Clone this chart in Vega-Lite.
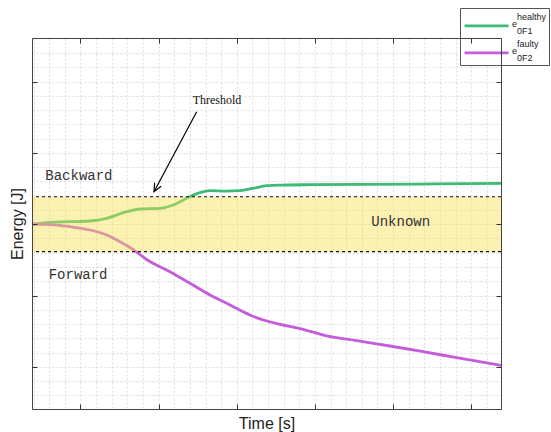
{
  "$schema": "https://vega.github.io/schema/vega-lite/v6.json",
  "width": 469,
  "height": 371,
  "autosize": {"type": "none"},
  "padding": {"left": 32, "top": 38, "right": 50, "bottom": 23},
  "config": {
    "view": {"stroke": null},
    "font": "Liberation Sans",
    "style": {"guide-label": {"lineHeight": 7}}
  },
  "datasets": {
    "energy": [
      {"signal": "healthy", "t": -0.62, "e": 2.0},
      {"signal": "healthy", "t": -0.39, "e": 2.027},
      {"signal": "healthy", "t": -0.134, "e": 2.035},
      {"signal": "healthy", "t": 0.122, "e": 2.045},
      {"signal": "healthy", "t": 0.336, "e": 2.083},
      {"signal": "healthy", "t": 0.591, "e": 2.175},
      {"signal": "healthy", "t": 0.762, "e": 2.213},
      {"signal": "healthy", "t": 1.017, "e": 2.223},
      {"signal": "healthy", "t": 1.188, "e": 2.269},
      {"signal": "healthy", "t": 1.359, "e": 2.363},
      {"signal": "healthy", "t": 1.529, "e": 2.444},
      {"signal": "healthy", "t": 1.657, "e": 2.47},
      {"signal": "healthy", "t": 1.871, "e": 2.465},
      {"signal": "healthy", "t": 2.041, "e": 2.47},
      {"signal": "healthy", "t": 2.207, "e": 2.503},
      {"signal": "healthy", "t": 2.382, "e": 2.54},
      {"signal": "healthy", "t": 2.553, "e": 2.549},
      {"signal": "healthy", "t": 2.975, "e": 2.554},
      {"signal": "healthy", "t": 3.576, "e": 2.559},
      {"signal": "healthy", "t": 4.344, "e": 2.563},
      {"signal": "healthy", "t": 5.38, "e": 2.573},
      {"signal": "faulty", "t": -0.62, "e": 2.0},
      {"signal": "faulty", "t": -0.39, "e": 1.995},
      {"signal": "faulty", "t": -0.134, "e": 1.965},
      {"signal": "faulty", "t": 0.122, "e": 1.919},
      {"signal": "faulty", "t": 0.336, "e": 1.849},
      {"signal": "faulty", "t": 0.506, "e": 1.755},
      {"signal": "faulty", "t": 0.676, "e": 1.645},
      {"signal": "faulty", "t": 0.847, "e": 1.505},
      {"signal": "faulty", "t": 1.145, "e": 1.334},
      {"signal": "faulty", "t": 1.401, "e": 1.172},
      {"signal": "faulty", "t": 1.657, "e": 1.008},
      {"signal": "faulty", "t": 1.913, "e": 0.868},
      {"signal": "faulty", "t": 2.169, "e": 0.727},
      {"signal": "faulty", "t": 2.339, "e": 0.657},
      {"signal": "faulty", "t": 2.553, "e": 0.597},
      {"signal": "faulty", "t": 2.808, "e": 0.538},
      {"signal": "faulty", "t": 3.107, "e": 0.447},
      {"signal": "faulty", "t": 3.534, "e": 0.367},
      {"signal": "faulty", "t": 3.96, "e": 0.293},
      {"signal": "faulty", "t": 4.386, "e": 0.213},
      {"signal": "faulty", "t": 4.813, "e": 0.129},
      {"signal": "faulty", "t": 5.38, "e": 0.02}
    ],
    "thresholds": [
      {"bound": "lower", "e": 1.615},
      {"bound": "upper", "e": 2.385}
    ],
    "regions": [
      {"label": "Backward", "t": -0.02, "e": 2.676},
      {"label": "Forward", "t": -0.03, "e": 1.288},
      {"label": "Unknown", "t": 4.097, "e": 2.027}
    ],
    "note": [
      {"label": "Threshold", "t": 1.747, "e": 3.741, "tipT": 0.941, "tipE": 2.456, "tailT": 1.487, "tailE": 3.577}
    ]
  },
  "layer": [
    {
      "data": {"name": "energy"},
      "mark": {"type": "line", "strokeWidth": 2.8, "interpolate": "monotone"},
      "encoding": {
        "x": {
          "field": "t", "type": "quantitative",
          "scale": {"domain": [-0.62, 5.38], "nice": false, "zero": false},
          "axis": {
            "orient": "bottom", "title": null, "labels": false, "ticks": false, "domain": false,
            "grid": true, "gridColor": "#dddddd", "gridDash": [2, 2], "gridWidth": 1, "zindex": 0,
            "values": [-0.6, -0.4, -0.2, 0, 0.2, 0.4, 0.6, 0.8, 1, 1.2, 1.4, 1.6, 1.8, 2, 2.2, 2.4, 2.6, 2.8, 3, 3.2, 3.4, 3.6, 3.8, 4, 4.2, 4.4, 4.6, 4.8, 5, 5.2]
          }
        },
        "y": {
          "field": "e", "type": "quantitative",
          "scale": {"domain": [-0.59, 4.61], "nice": false, "zero": false},
          "axis": {
            "orient": "left", "title": null, "labels": false, "ticks": false, "domain": false,
            "grid": true, "gridColor": "#dddddd", "gridDash": [2, 2], "gridWidth": 1, "zindex": 0,
            "values": [-0.4, -0.2, 0, 0.2, 0.4, 0.6, 0.8, 1, 1.2, 1.4, 1.6, 1.8, 2, 2.2, 2.4, 2.6, 2.8, 3, 3.2, 3.4, 3.6, 3.8, 4, 4.2, 4.4]
          }
        },
        "color": {
          "field": "signal", "type": "nominal",
          "scale": {"domain": ["healthy", "faulty"], "range": ["#3dba74", "#c45cdb"]},
          "legend": {
            "orient": "none", "legendX": 428, "legendY": -30,
            "title": null, "padding": 2, "fillColor": "white", "strokeColor": "#555",
            "symbolType": "M-0.8,1.6H7.2", "symbolSize": 121, "symbolStrokeWidth": 2.8,
            "symbolFillColor": "transparent",
            "labelOffset": 36, "labelFontSize": 9, "labelFont": "Liberation Sans", "labelColor": "#222",
            "rowPadding": 1,
            "labelExpr": "datum.label == 'healthy' ? ['\u200b\u00a0\u00a0healthy', 'e', '\u200b\u00a0\u00a00F1'] : ['\u200b\u00a0\u00a0faulty', 'e', '\u200b\u00a0\u00a00F2']"
          }
        }
      }
    },
    {
      "data": {"name": "thresholds"},
      "transform": [{"aggregate": [{"op": "min", "field": "e", "as": "lo"}, {"op": "max", "field": "e", "as": "hi"}]}],
      "mark": {"type": "rect", "color": "#f5df55", "opacity": 0.45},
      "encoding": {
        "y": {"field": "lo", "type": "quantitative", "axis": null},
        "y2": {"field": "hi"}
      }
    },
    {
      "data": {"name": "thresholds"},
      "mark": {"type": "rule", "color": "#111", "strokeWidth": 1.2, "strokeDash": [3, 3]},
      "encoding": {
        "y": {"field": "e", "type": "quantitative", "axis": null}
      }
    },
    {
      "data": {"name": "regions"},
      "mark": {"type": "text", "font": "Liberation Mono", "fontSize": 14, "color": "#333", "align": "center", "baseline": "middle"},
      "encoding": {
        "x": {
          "field": "t", "type": "quantitative",
          "axis": {
            "orient": "bottom", "title": "Time [s]", "titleFontSize": 16, "titleFontWeight": "normal",
            "titleColor": "#222", "titlePadding": 6, "labels": false, "grid": false,
            "ticks": true, "tickSize": -5, "tickColor": "#333", "domain": true, "domainColor": "#444",
            "zindex": 1, "values": [0, 1, 2, 3, 4, 5]
          }
        },
        "y": {
          "field": "e", "type": "quantitative",
          "axis": {
            "orient": "left", "title": "Energy [J]", "titleFontSize": 16, "titleFontWeight": "normal",
            "titleColor": "#222", "titlePadding": 6, "labels": false, "grid": false,
            "ticks": true, "tickSize": -5, "tickColor": "#333", "domain": true, "domainColor": "#444",
            "zindex": 1, "values": [0, 1, 2, 3, 4]
          }
        },
        "text": {"field": "label"}
      }
    },
    {
      "data": {"name": "note"},
      "mark": {"type": "text", "font": "Liberation Serif", "fontSize": 12, "color": "#111", "align": "center", "baseline": "middle"},
      "encoding": {
        "x": {
          "field": "t", "type": "quantitative",
          "axis": {
            "orient": "top", "title": null, "labels": false, "grid": false,
            "ticks": true, "tickSize": -5, "tickColor": "#333", "domain": true, "domainColor": "#444",
            "zindex": 1, "values": [0, 1, 2, 3, 4, 5]
          }
        },
        "y": {
          "field": "e", "type": "quantitative",
          "axis": {
            "orient": "right", "title": null, "labels": false, "grid": false,
            "ticks": true, "tickSize": -5, "tickColor": "#333", "domain": true, "domainColor": "#444",
            "zindex": 1, "values": [0, 1, 2, 3, 4]
          }
        },
        "text": {"field": "label"}
      }
    },
    {
      "data": {"name": "note"},
      "mark": {"type": "rule", "color": "#000", "strokeWidth": 1.2},
      "encoding": {
        "x": {"field": "tailT", "type": "quantitative", "axis": null},
        "y": {"field": "tailE", "type": "quantitative", "axis": null},
        "x2": {"field": "tipT"},
        "y2": {"field": "tipE"}
      }
    },
    {
      "data": {"name": "note"},
      "mark": {"type": "point", "shape": "M-0.45,-1L0,0L0.45,-1", "filled": false, "color": "#000", "strokeWidth": 1.2, "size": 270, "angle": 28, "opacity": 1},
      "encoding": {
        "x": {"field": "tipT", "type": "quantitative", "axis": null},
        "y": {"field": "tipE", "type": "quantitative", "axis": null}
      }
    }
  ],
  "resolve": {"axis": {"x": "independent", "y": "independent"}}
}
